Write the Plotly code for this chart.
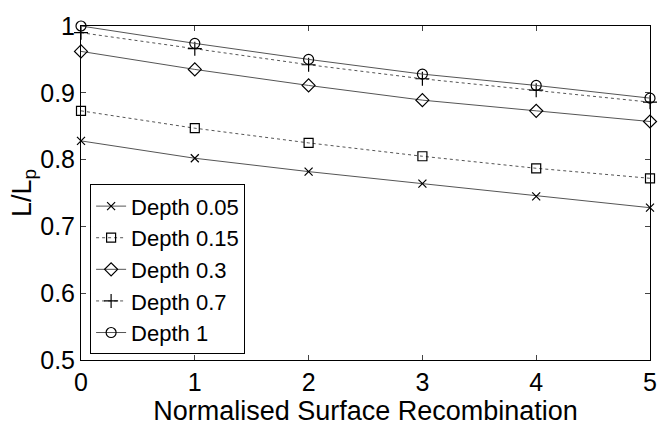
import plotly.graph_objects as go

x_vals = [0, 1, 2, 3, 4, 5]
depth_005 = [0.828, 0.802, 0.782, 0.764, 0.745, 0.728]
depth_015 = [0.873, 0.847, 0.825, 0.805, 0.787, 0.772]
depth_03 = [0.962, 0.935, 0.911, 0.889, 0.873, 0.857]
depth_07 = [0.990, 0.966, 0.942, 0.921, 0.904, 0.886]
depth_1 = [1.000, 0.974, 0.950, 0.928, 0.911, 0.892]

names = ["Depth 0.05", "Depth 0.15", "Depth 0.3", "Depth 0.7", "Depth 1"]
series = [depth_005, depth_015, depth_03, depth_07, depth_1]
symbols = ["x-thin-open", "square-open", "diamond-open", "cross-thin-open", "circle-open"]
dashes = ["solid", "dot", "solid", "dot", "solid"]
sizes = [8, 9, 10, 10, 10]

fig = go.Figure()
for name, ys, sym, dash, sz in zip(names, series, symbols, dashes, sizes):
    fig.add_trace(go.Scatter(
        x=x_vals, y=ys, name=name, mode="lines+markers", cliponaxis=False,
        line=dict(color="#555555", width=1, dash=dash),
        marker=dict(symbol=sym, size=sz, color="black", line=dict(color="black", width=1.2)),
    ))

font_family = "Liberation Sans, Arial, sans-serif"
fig.update_layout(
    width=670, height=427,
    margin=dict(l=81, r=20, t=20, b=60),
    paper_bgcolor="white", plot_bgcolor="white",
    font=dict(family=font_family, size=24, color="black"),
    showlegend=True,
    legend=dict(
        x=0.016, y=0.017, xanchor="left", yanchor="bottom",
        bgcolor="white", bordercolor="black", borderwidth=1,
        font=dict(size=22), tracegroupgap=0,
    ),
    xaxis=dict(
        range=[0, 5], tickvals=[0, 1, 2, 3, 4, 5], ticks="inside", ticklen=5,
        showline=True, linecolor="black", linewidth=1, mirror="ticks",
        showgrid=False, zeroline=False,
        title=dict(text="Normalised Surface Recombination", standoff=0, font=dict(size=27)),
        tickfont=dict(size=25),
    ),
    yaxis=dict(
        range=[0.5, 1], tickvals=[0.5, 0.6, 0.7, 0.8, 0.9, 1.0],
        ticktext=["0.5", "0.6", "0.7", "0.8", "0.9", "1"],
        ticks="inside", ticklen=5,
        showline=True, linecolor="black", linewidth=1, mirror="ticks",
        showgrid=False, zeroline=False,
        title=dict(text="L/L<sub>p</sub>", standoff=0, font=dict(size=27)),
        tickfont=dict(size=25),
    ),
)

fig.write_html("out.html")
